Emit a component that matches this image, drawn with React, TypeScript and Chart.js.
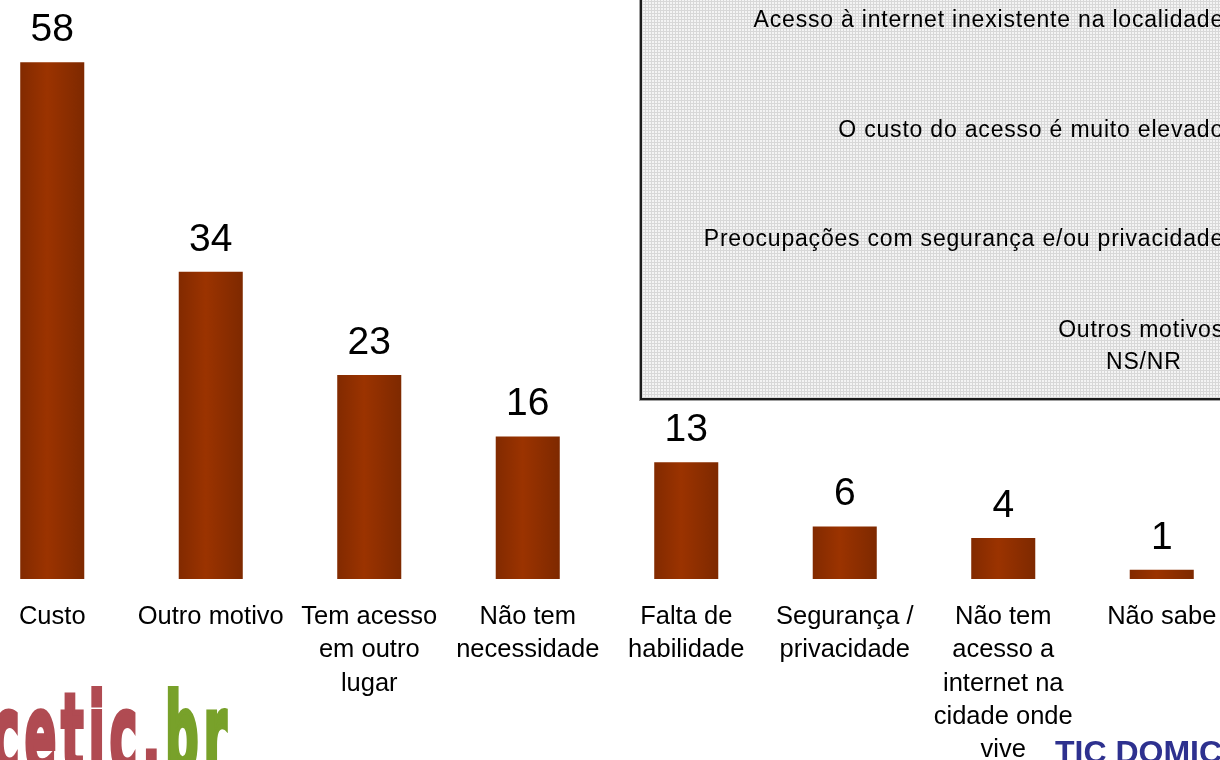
import React, { useEffect, useRef } from "react";
import { Chart, registerables } from "chart.js";

Chart.register(...registerables);

const categories: string[][] = [
  ["Custo"],
  ["Outro motivo"],
  ["Tem acesso", "em outro", "lugar"],
  ["Não tem", "necessidade"],
  ["Falta de", "habilidade"],
  ["Segurança /", "privacidade"],
  ["Não tem", "acesso a", "internet na", "cidade onde", "vive"],
  ["Não sabe"],
];
const values: number[] = [58, 34.5, 22.9, 16, 13.1, 5.9, 4.6, 1.05];
const valueLabels: string[] = ["58", "34", "23", "16", "13", "6", "4", "1"];

const boxTexts: string[] = [
  "Acesso à internet inexistente na localidade",
  "O custo do acesso é muito elevado",
  "Preocupações com segurança e/ou privacidade",
  "Outros motivos",
];
const boxLastText = "NS/NR";

const FONT = '"Liberation Sans", Arial, sans-serif';

const valueLabelPlugin = {
  id: "valueLabels",
  afterDatasetsDraw(chart: any) {
    const ctx = chart.ctx;
    const meta = chart.getDatasetMeta(0);
    ctx.save();
    ctx.font = `39px ${FONT}`;
    ctx.fillStyle = "#000";
    ctx.textAlign = "center";
    ctx.textBaseline = "alphabetic";
    meta.data.forEach((bar: any, i: number) => {
      ctx.fillText(valueLabels[i], bar.x, bar.y - 21);
    });
    ctx.restore();
  },
};

export default function App() {
  const ref = useRef<HTMLCanvasElement | null>(null);

  useEffect(() => {
    if (!ref.current) return;
    const chart = new Chart(ref.current, {
      type: "bar",
      data: {
        labels: categories,
        datasets: [
          {
            data: values,
            backgroundColor: (c: any) => {
              const ch = c.chart;
              const xs = ch.scales && ch.scales.x;
              if (!ch.chartArea || !xs || c.dataIndex === undefined) return "#933100";
              const cx = xs.getPixelForValue(c.dataIndex);
              const w = (xs.width / categories.length) * 0.404;
              const g = ch.ctx.createLinearGradient(cx - w / 2, 0, cx + w / 2, 0);
              g.addColorStop(0, "#822a00");
              g.addColorStop(0.42, "#9b3300");
              g.addColorStop(1, "#7e2900");
              return g;
            },
            borderWidth: 0,
            categoryPercentage: 1,
            barPercentage: 0.404,
          },
        ],
      },
      options: {
        responsive: false,
        animation: false,
        layout: { padding: 0 },
        plugins: {
          legend: { display: false },
          tooltip: { enabled: false },
          title: { display: false },
        },
        scales: {
          y: {
            display: false,
            min: 0,
            max: 65,
          },
          x: {
            grid: { display: false, drawTicks: false },
            border: { display: false },
            afterFit: (scale: any) => {
              scale.height = 181;
            },
            ticks: {
              color: "#000",
              padding: 21.4,
              maxRotation: 0,
              autoSkip: false,
              font: { family: FONT, size: 25.5, lineHeight: 33.3 / 25.5 },
            },
          },
        },
      },
      plugins: [valueLabelPlugin],
    });
    return () => chart.destroy();
  }, []);

  const boxTextStyle = (top: number): React.CSSProperties => ({
    position: "absolute",
    right: -4,
    top,
    fontFamily: FONT,
    fontSize: 23,
    letterSpacing: 0.8,
    lineHeight: "26px",
    color: "#000",
    whiteSpace: "nowrap",
  });

  const boxTops = [6, 116, 225, 316];

  return (
    <div style={{ position: "fixed", left: 0, top: 0, width: 1220, height: 760, overflow: "hidden", background: "#fff" }}>
      <canvas
        ref={ref}
        width={1268}
        height={760}
        style={{ position: "absolute", left: -27, top: 0, width: 1268, height: 760 }}
      />
      <div
        style={{
          position: "absolute",
          left: 640,
          top: -10,
          width: 620,
          height: 406,
          border: "2px solid #1a1a1a",
          boxShadow: "0 0 0 1px #a0a0a0",
          backgroundColor: "#f4f4f4",
          backgroundImage:
            "linear-gradient(90deg, #d8d8d8 1px, transparent 1px), linear-gradient(#d8d8d8 1px, transparent 1px)",
          backgroundSize: "3px 3px",
        }}
      />
      {boxTexts.map((t, i) => (
        <div key={i} style={boxTextStyle(boxTops[i])}>
          {t}
        </div>
      ))}
      <div
        style={{
          position: "absolute",
          left: 1106,
          top: 348,
          fontFamily: FONT,
          fontSize: 23,
          letterSpacing: 0.8,
          lineHeight: "26px",
          color: "#000",
          whiteSpace: "nowrap",
        }}
      >
        {boxLastText}
      </div>
      <div
        style={{
          position: "absolute",
          left: -8,
          top: 681,
          fontFamily: '"DejaVu Sans", sans-serif',
          fontWeight: "bold",
          fontSize: 108,
          lineHeight: 1,
          letterSpacing: 12,
          whiteSpace: "nowrap",
          transform: "scaleX(0.43)",
          transformOrigin: "left top",
        }}
      >
        <span style={{ color: "#b04b52", WebkitTextStroke: "6px #b04b52" } as any}>cetic.</span>
        <span style={{ color: "#78a12a", WebkitTextStroke: "6px #78a12a" } as any}>br</span>
      </div>
      <div
        style={{
          position: "absolute",
          left: 1055,
          top: 736,
          fontFamily: FONT,
          fontWeight: "bold",
          fontSize: 32,
          lineHeight: 1,
          color: "#2e318f",
          whiteSpace: "nowrap",
        }}
      >
        TIC DOMICÍLIOS
      </div>
    </div>
  );
}
